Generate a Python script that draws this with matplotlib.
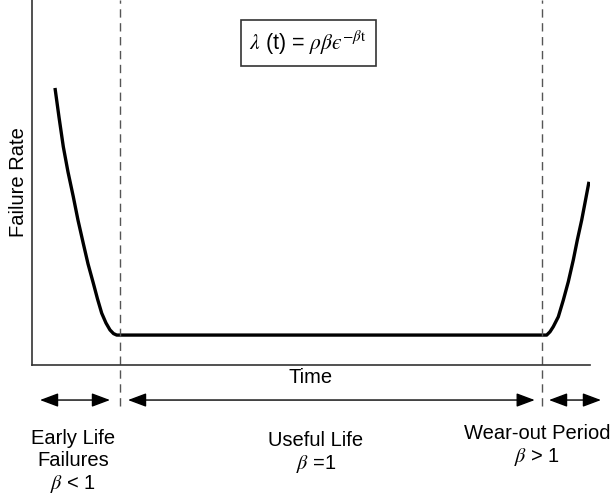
import matplotlib.pyplot as plt

plt.rcParams['font.family'] = ['Liberation Sans', 'DejaVu Sans']
plt.rcParams['mathtext.fontset'] = 'stix'

# Bathtub curve (arbitrary units: time 0-100, rate 0-100)
t = [4.12, 4.84, 5.61, 6.45, 7.40, 8.24, 9.19, 10.04, 10.99, 11.74,
     12.49, 13.26, 13.98, 14.61, 15.18,
     92.24, 92.83, 93.42, 94.32, 95.22, 96.11, 97.01, 97.72, 98.51,
     99.10, 99.82]
rate = [75.9, 67.9, 59.8, 52.9, 46.1, 39.7, 33.3, 27.7, 22.4, 18.1,
        14.2, 11.5, 9.6, 8.6, 8.2,
        8.2, 9.1, 10.5, 13.2, 17.8, 22.8, 28.8, 34.2, 39.7,
        44.4, 50.2]

# Phase boundaries
boundaries = [15.8, 91.4]
phase_labels = ["Early Life\nFailures\n$\\beta$ < 1",
                "Useful Life\n$\\beta$ =1",
                "Wear-out Period\n$\\beta$ > 1"]
phase_x = [7.35, 50.9, 90.5]
phase_y = [-17.5, -18.1, -16.2]
arrow_spans = [(1.43, 13.98), (17.2, 90.1), (92.65, 101.97)]

W, H = 614, 496
fig = plt.figure(figsize=(W / 100, H / 100), dpi=100)
ax = fig.add_axes([32 / W, (H - 365) / H, 558 / W, 365 / H])
ax.set_xlim(0, 100)
ax.set_ylim(0, 100)

ax.plot(t, rate, color='black', lw=2.4, solid_joinstyle='round',
        solid_capstyle='butt')

for b in boundaries:
    ax.axvline(b, ymin=-0.112, ymax=1, color='#555555', lw=1,
               ls=(0, (6, 4)), clip_on=False)

for spine in ['top', 'right']:
    ax.spines[spine].set_visible(False)
for spine in ['left', 'bottom']:
    ax.spines[spine].set_color('#333333')
    ax.spines[spine].set_linewidth(1.2)
ax.set_xticks([])
ax.set_yticks([])

ax.set_ylabel("Failure Rate", fontsize=14.5, labelpad=3)
ax.set_xlabel("Time", fontsize=14.5, labelpad=2)

# Formula box
ax.text(49.5, 88.2, "$\\lambda$ (t) = $\\rho\\beta ϵ^{-\\beta\\mathrm{t}}$",
        fontsize=15.5, ha='center', va='center',
        bbox=dict(boxstyle='square,pad=0.4', fc='white', ec='#333333', lw=1.2))

# Arrows and phase labels below axis
for (x0, x1) in arrow_spans:
    ax.annotate("", xy=(x0, -9.6), xytext=(x1, -9.6), xycoords='data',
                annotation_clip=False,
                arrowprops=dict(arrowstyle='<|-|>,head_length=0.8,head_width=0.3',
                                color='black', lw=1.0,
                                mutation_scale=14, shrinkA=0, shrinkB=0))

for x, y, s in zip(phase_x, phase_y, phase_labels):
    ax.text(x, y, s, fontsize=14.5, ha='center', va='top',
            linespacing=1.2, clip_on=False)

fig.savefig("out.png", dpi=100)
